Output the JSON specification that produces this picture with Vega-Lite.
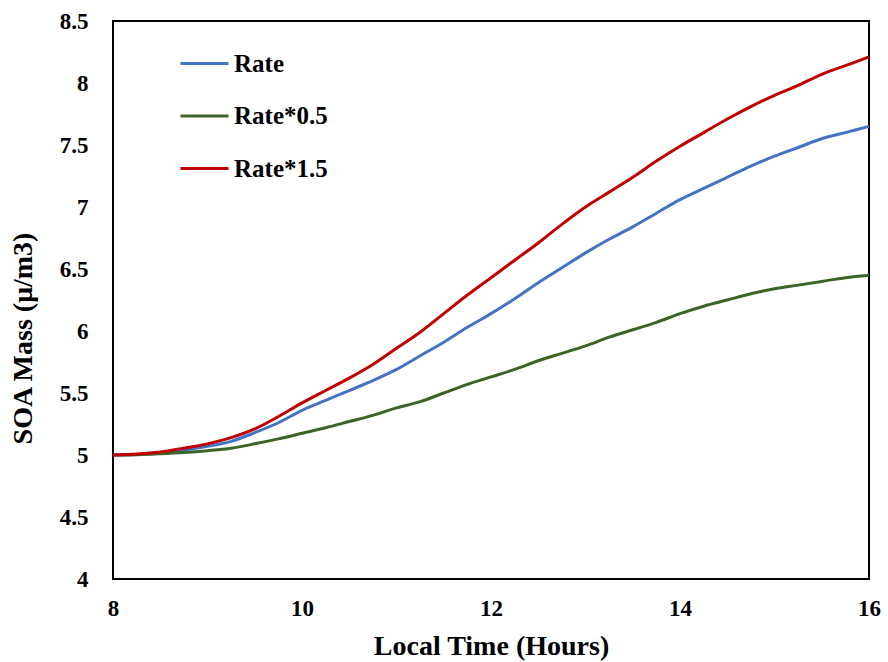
{
  "$schema": "https://vega.github.io/schema/vega-lite/v6.json",
  "autosize": "none",
  "width": 756,
  "height": 558,
  "padding": {"left": 113, "top": 21, "right": 19, "bottom": 83},
  "background": "white",
  "config": {
    "font": "Liberation Serif",
    "view": {"stroke": "black", "strokeWidth": 2},
    "axis": {
      "grid": false,
      "domain": false,
      "ticks": false,
      "labelFont": "Liberation Serif",
      "labelFontWeight": "bold",
      "labelFontSize": 23,
      "labelColor": "black",
      "titleFont": "Liberation Serif",
      "titleFontWeight": "bold",
      "titleFontSize": 28,
      "titleColor": "black"
    },
    "legend": {
      "labelFont": "Liberation Serif",
      "labelFontWeight": "bold",
      "labelFontSize": 25,
      "labelColor": "black"
    }
  },
  "data": {
    "values": [
      {"t": 8.0, "s": "Rate", "v": 5.0}, {"t": 8.0, "s": "Rate*0.5", "v": 5.0}, {"t": 8.0, "s": "Rate*1.5", "v": 5.0},
      {"t": 8.25, "s": "Rate", "v": 5.005}, {"t": 8.25, "s": "Rate*0.5", "v": 5.003}, {"t": 8.25, "s": "Rate*1.5", "v": 5.008},
      {"t": 8.5, "s": "Rate", "v": 5.015}, {"t": 8.5, "s": "Rate*0.5", "v": 5.01}, {"t": 8.5, "s": "Rate*1.5", "v": 5.025},
      {"t": 8.75, "s": "Rate", "v": 5.04}, {"t": 8.75, "s": "Rate*0.5", "v": 5.02}, {"t": 8.75, "s": "Rate*1.5", "v": 5.055},
      {"t": 9.0, "s": "Rate", "v": 5.07}, {"t": 9.0, "s": "Rate*0.5", "v": 5.035}, {"t": 9.0, "s": "Rate*1.5", "v": 5.09},
      {"t": 9.25, "s": "Rate", "v": 5.11}, {"t": 9.25, "s": "Rate*0.5", "v": 5.055}, {"t": 9.25, "s": "Rate*1.5", "v": 5.14},
      {"t": 9.5, "s": "Rate", "v": 5.18}, {"t": 9.5, "s": "Rate*0.5", "v": 5.09}, {"t": 9.5, "s": "Rate*1.5", "v": 5.21},
      {"t": 9.75, "s": "Rate", "v": 5.26}, {"t": 9.75, "s": "Rate*0.5", "v": 5.13}, {"t": 9.75, "s": "Rate*1.5", "v": 5.31},
      {"t": 10.0, "s": "Rate", "v": 5.36}, {"t": 10.0, "s": "Rate*0.5", "v": 5.175}, {"t": 10.0, "s": "Rate*1.5", "v": 5.42},
      {"t": 10.25, "s": "Rate", "v": 5.44}, {"t": 10.25, "s": "Rate*0.5", "v": 5.22}, {"t": 10.25, "s": "Rate*1.5", "v": 5.52},
      {"t": 10.5, "s": "Rate", "v": 5.52}, {"t": 10.5, "s": "Rate*0.5", "v": 5.27}, {"t": 10.5, "s": "Rate*1.5", "v": 5.62},
      {"t": 10.75, "s": "Rate", "v": 5.6}, {"t": 10.75, "s": "Rate*0.5", "v": 5.32}, {"t": 10.75, "s": "Rate*1.5", "v": 5.73},
      {"t": 11.0, "s": "Rate", "v": 5.69}, {"t": 11.0, "s": "Rate*0.5", "v": 5.38}, {"t": 11.0, "s": "Rate*1.5", "v": 5.86},
      {"t": 11.25, "s": "Rate", "v": 5.8}, {"t": 11.25, "s": "Rate*0.5", "v": 5.43}, {"t": 11.25, "s": "Rate*1.5", "v": 5.99},
      {"t": 11.5, "s": "Rate", "v": 5.91}, {"t": 11.5, "s": "Rate*0.5", "v": 5.5}, {"t": 11.5, "s": "Rate*1.5", "v": 6.14},
      {"t": 11.75, "s": "Rate", "v": 6.03}, {"t": 11.75, "s": "Rate*0.5", "v": 5.57}, {"t": 11.75, "s": "Rate*1.5", "v": 6.29},
      {"t": 12.0, "s": "Rate", "v": 6.14}, {"t": 12.0, "s": "Rate*0.5", "v": 5.63}, {"t": 12.0, "s": "Rate*1.5", "v": 6.43},
      {"t": 12.25, "s": "Rate", "v": 6.26}, {"t": 12.25, "s": "Rate*0.5", "v": 5.69}, {"t": 12.25, "s": "Rate*1.5", "v": 6.57},
      {"t": 12.5, "s": "Rate", "v": 6.39}, {"t": 12.5, "s": "Rate*0.5", "v": 5.76}, {"t": 12.5, "s": "Rate*1.5", "v": 6.71},
      {"t": 12.75, "s": "Rate", "v": 6.51}, {"t": 12.75, "s": "Rate*0.5", "v": 5.82}, {"t": 12.75, "s": "Rate*1.5", "v": 6.86},
      {"t": 13.0, "s": "Rate", "v": 6.63}, {"t": 13.0, "s": "Rate*0.5", "v": 5.88}, {"t": 13.0, "s": "Rate*1.5", "v": 7.0},
      {"t": 13.25, "s": "Rate", "v": 6.74}, {"t": 13.25, "s": "Rate*0.5", "v": 5.95}, {"t": 13.25, "s": "Rate*1.5", "v": 7.12},
      {"t": 13.5, "s": "Rate", "v": 6.84}, {"t": 13.5, "s": "Rate*0.5", "v": 6.01}, {"t": 13.5, "s": "Rate*1.5", "v": 7.24},
      {"t": 13.75, "s": "Rate", "v": 6.95}, {"t": 13.75, "s": "Rate*0.5", "v": 6.07}, {"t": 13.75, "s": "Rate*1.5", "v": 7.37},
      {"t": 14.0, "s": "Rate", "v": 7.06}, {"t": 14.0, "s": "Rate*0.5", "v": 6.14}, {"t": 14.0, "s": "Rate*1.5", "v": 7.49},
      {"t": 14.25, "s": "Rate", "v": 7.15}, {"t": 14.25, "s": "Rate*0.5", "v": 6.2}, {"t": 14.25, "s": "Rate*1.5", "v": 7.6},
      {"t": 14.5, "s": "Rate", "v": 7.24}, {"t": 14.5, "s": "Rate*0.5", "v": 6.25}, {"t": 14.5, "s": "Rate*1.5", "v": 7.71},
      {"t": 14.75, "s": "Rate", "v": 7.33}, {"t": 14.75, "s": "Rate*0.5", "v": 6.3}, {"t": 14.75, "s": "Rate*1.5", "v": 7.81},
      {"t": 15.0, "s": "Rate", "v": 7.41}, {"t": 15.0, "s": "Rate*0.5", "v": 6.34}, {"t": 15.0, "s": "Rate*1.5", "v": 7.9},
      {"t": 15.25, "s": "Rate", "v": 7.48}, {"t": 15.25, "s": "Rate*0.5", "v": 6.37}, {"t": 15.25, "s": "Rate*1.5", "v": 7.98},
      {"t": 15.5, "s": "Rate", "v": 7.55}, {"t": 15.5, "s": "Rate*0.5", "v": 6.4}, {"t": 15.5, "s": "Rate*1.5", "v": 8.07},
      {"t": 15.75, "s": "Rate", "v": 7.6}, {"t": 15.75, "s": "Rate*0.5", "v": 6.43}, {"t": 15.75, "s": "Rate*1.5", "v": 8.14},
      {"t": 16.0, "s": "Rate", "v": 7.65}, {"t": 16.0, "s": "Rate*0.5", "v": 6.45}, {"t": 16.0, "s": "Rate*1.5", "v": 8.21}
    ]
  },
  "mark": {"type": "line", "strokeWidth": 3, "interpolate": "monotone"},
  "encoding": {
    "x": {
      "field": "t", "type": "quantitative",
      "scale": {"domain": [8, 16], "nice": false, "zero": false},
      "axis": {"title": "Local Time (Hours)", "values": [8, 10, 12, 14, 16], "labelPadding": 18, "titlePadding": 12, "labelFlush": false}
    },
    "y": {
      "field": "v", "type": "quantitative",
      "scale": {"domain": [4, 8.5], "nice": false, "zero": false},
      "axis": {"title": "SOA Mass (μ/m3)", "values": [4, 4.5, 5, 5.5, 6, 6.5, 7, 7.5, 8, 8.5], "format": "~g", "labelPadding": 25, "titlePadding": 22, "titleY": 317, "labelFlush": false}
    },
    "color": {
      "field": "s", "type": "nominal",
      "scale": {"domain": ["Rate", "Rate*0.5", "Rate*1.5"], "range": ["#4472C4", "#3B6426", "#C00000"]},
      "legend": {
        "title": null, "orient": "none", "legendX": 66, "legendY": 17,
        "symbolType": "stroke", "symbolSize": 2304, "symbolStrokeWidth": 3,
        "rowPadding": 13.5, "labelOffset": 4, "padding": 0
      }
    }
  }
}
